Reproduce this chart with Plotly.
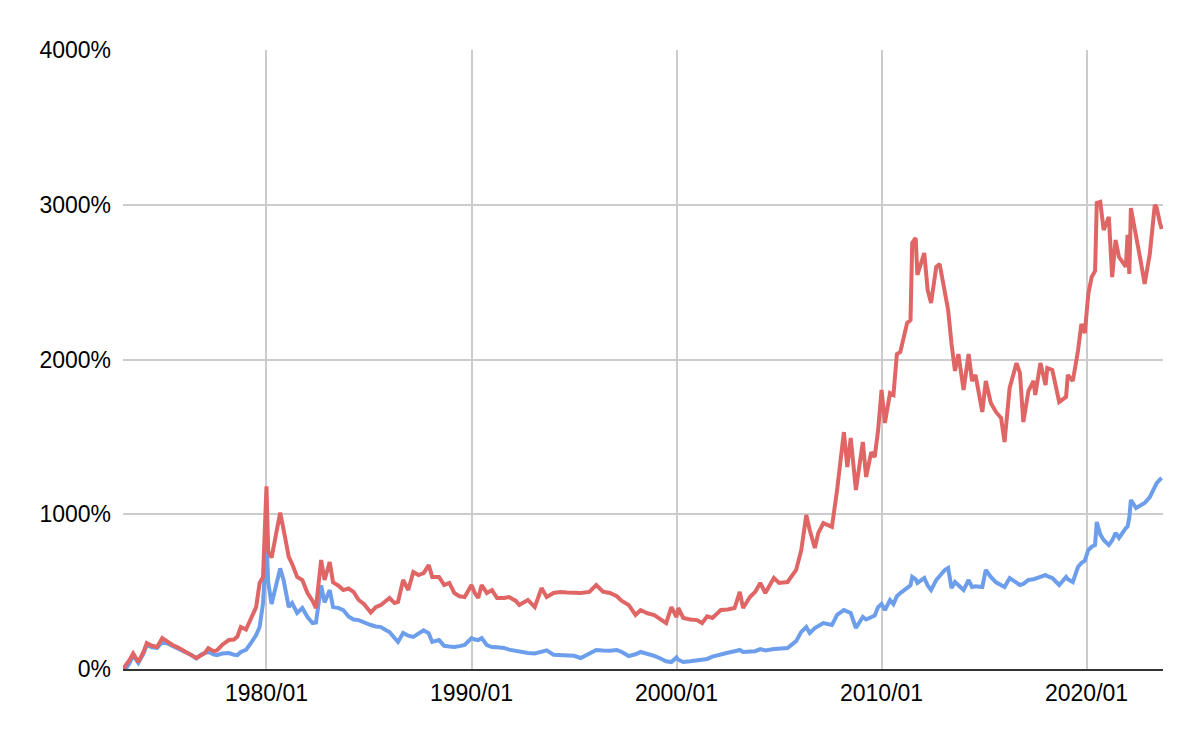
import plotly.graph_objects as go

# ---- data ----
dates = [
    "1973-01", "1973-03", "1973-05", "1973-07", "1973-10",
    "1974-01", "1974-03", "1974-06", "1974-09", "1974-12",
    "1975-03", "1975-06", "1975-09", "1975-12",
    "1976-02", "1976-05", "1976-08", "1976-11",
    "1977-01", "1977-03", "1977-06", "1977-08", "1977-11",
    "1978-03", "1978-06", "1978-08", "1978-10",
    "1979-01", "1979-04", "1979-07", "1979-09", "1979-11",
    "1980-01", "1980-02", "1980-04", "1980-07", "1980-09", "1980-11",
    "1981-02", "1981-04", "1981-07", "1981-10",
    "1982-01", "1982-04", "1982-06", "1982-09", "1982-11",
    "1983-02", "1983-04", "1983-07", "1983-10",
    "1984-01", "1984-04", "1984-07", "1984-10",
    "1985-02", "1985-05", "1985-08", "1985-11",
    "1986-01", "1986-04", "1986-06", "1986-09", "1986-12",
    "1987-03", "1987-06", "1987-09", "1987-12",
    "1988-02", "1988-06", "1988-09", "1988-12",
    "1989-03", "1989-06", "1989-09",
    "1990-01", "1990-03", "1990-05", "1990-07", "1990-10",
    "1991-01", "1991-04", "1991-08", "1991-11",
    "1992-03", "1992-05", "1992-10",
    "1993-02", "1993-06", "1993-09",
    "1994-01", "1994-05", "1994-09",
    "1995-01", "1995-05", "1995-10",
    "1996-02", "1996-06", "1996-10",
    "1997-02", "1997-05", "1997-09",
    "1998-01", "1998-04", "1998-08", "1998-12",
    "1999-03", "1999-07", "1999-10",
    "2000-01", "2000-02", "2000-05", "2000-09",
    "2001-01", "2001-04", "2001-07", "2001-10",
    "2002-03", "2002-07", "2002-11",
    "2003-02", "2003-04", "2003-08", "2003-11",
    "2004-02", "2004-05", "2004-10",
    "2005-01", "2005-06", "2005-11",
    "2006-02", "2006-05", "2006-07", "2006-10", "2006-12",
    "2007-03", "2007-08", "2007-11",
    "2008-03", "2008-05", "2008-07", "2008-10",
    "2009-02", "2009-04", "2009-07", "2009-09", "2009-11",
    "2010-01", "2010-03", "2010-06", "2010-08", "2010-10", "2010-12",
    "2011-04", "2011-06", "2011-07", "2011-09", "2011-10",
    "2012-02", "2012-04", "2012-06", "2012-09", "2012-11",
    "2013-02", "2013-04", "2013-06", "2013-08", "2013-10",
    "2014-01", "2014-04", "2014-06", "2014-08", "2014-12",
    "2015-02", "2015-05", "2015-08", "2015-11",
    "2016-01", "2016-04", "2016-08", "2016-10", "2016-12",
    "2017-03", "2017-06", "2017-07", "2017-10",
    "2018-01", "2018-02", "2018-05", "2018-09",
    "2019-01", "2019-02", "2019-05", "2019-08", "2019-10", "2019-12",
    "2020-02", "2020-04", "2020-06", "2020-07", "2020-09", "2020-11",
    "2021-02", "2021-04", "2021-06", "2021-08", "2021-12",
    "2022-01", "2022-02", "2022-03", "2022-06", "2022-09", "2022-11",
    "2023-02", "2023-05", "2023-06", "2023-08", "2023-09",
]

red_values = [
    0, 26, 60, 100, 45,
    110, 168, 150, 142, 200,
    175, 155, 140, 123,
    105, 90, 71, 90,
    105, 135, 115, 120, 155,
    187, 190, 210, 271,
    255, 330, 400, 556, 595,
    1180, 760, 720, 900, 1010, 900,
    724, 680, 595, 575,
    491, 440, 394, 704, 575,
    691, 560, 540, 510,
    520, 498, 446, 420,
    365, 400, 414, 440,
    459, 426, 433, 575, 510,
    627, 607, 620, 672,
    595, 595, 543, 556,
    491, 470, 465,
    543, 491, 459, 543, 491,
    510, 459, 459, 465,
    440, 414, 446,
    400, 523, 465,
    491, 498, 495,
    491, 491, 498,
    543, 500, 491,
    470, 440, 414,
    349, 381, 360, 349,
    330, 297, 400,
    336, 394, 330, 320,
    316, 297, 340, 330,
    381, 385, 394,
    498, 394, 465, 498,
    556, 491, 588,
    556, 562, 640,
    769, 995, 898, 782, 879,
    943, 918, 1157,
    1531, 1305, 1493, 1157,
    1467, 1241, 1402, 1370, 1544,
    1803, 1590, 1783, 1771, 2035, 2048,
    2236, 2255, 2753, 2785, 2546,
    2688, 2449, 2365, 2598, 2617,
    2449, 2320, 2100, 1926, 2035,
    1803, 2035, 1861, 1900, 1661,
    1861, 1719, 1661, 1622,
    1467, 1816, 1977, 1913, 1596,
    1796, 1861, 1771, 1977,
    1835, 1945, 1932, 1725,
    1758, 1900, 1861, 2055, 2229, 2171,
    2423, 2533, 2572, 3011, 3018, 2837,
    2921, 2533, 2772, 2662, 2598,
    2805, 2553, 2979, 2779, 2617, 2488,
    2682, 2998, 2985, 2882, 2843,
]

blue_values = [
    0, 6, 40, 90, 40,
    100, 155, 140, 136, 175,
    165, 150, 135, 115,
    108, 90, 68, 95,
    103, 110, 95, 90, 100,
    103, 92, 90, 110,
    123, 168, 220, 271, 426,
    830, 560, 420, 560, 650, 575,
    400, 426, 362, 394,
    336, 297, 300, 540, 430,
    510, 400, 395, 381,
    340, 320, 316, 300,
    284, 275, 271, 250,
    239, 200, 175, 233, 215,
    207, 230, 250, 230,
    175, 187, 150, 145,
    142, 148, 155,
    200, 190, 187, 200, 155,
    142, 140, 136, 125,
    115, 110, 103,
    100, 115, 120,
    92, 90, 84,
    85, 71, 100,
    123, 120, 118,
    123, 110, 84,
    95, 110, 100, 85,
    71, 50, 45,
    75, 60, 45, 50,
    55, 58, 65, 80,
    97, 105, 115,
    123, 110, 110, 115,
    129, 120, 129,
    130, 136, 180,
    240, 271, 233, 265, 280,
    297, 284, 350,
    381, 368, 362, 265,
    336, 320, 336, 345, 400,
    420, 381, 446, 420, 470, 491,
    520, 540, 595, 580, 556,
    588, 540, 510, 575, 600,
    640, 653, 523, 562, 540,
    510, 575, 530, 535, 530,
    640, 595, 560, 543,
    530, 588, 556, 543, 550,
    575, 580, 585, 595,
    607, 600, 588, 543,
    595, 580, 562, 659, 685, 700,
    769, 790, 801, 950, 870, 834,
    801, 830, 879, 847, 911,
    920, 980, 1092, 1040, 1060, 1073,
    1111, 1189, 1200, 1225, 1234,
]

x_tick_labels = ["1980/01", "1990/01", "2000/01", "2010/01", "2020/01"]
y_tick_values = [0, 1000, 2000, 3000, 4000]
y_tick_labels = ["0%", "1000%", "2000%", "3000%", "4000%"]

RED = "#e06666"
BLUE = "#6d9eeb"
FONT = "Liberation Sans, Arial, Helvetica, sans-serif"

fig = go.Figure()
fig.add_trace(go.Scatter(x=dates, y=blue_values, mode="lines",
                         line=dict(color=BLUE, width=4), showlegend=False))
fig.add_trace(go.Scatter(x=dates, y=red_values, mode="lines",
                         line=dict(color=RED, width=4), showlegend=False))

x_tick_vals = [lbl.replace("/", "-") + "-01" for lbl in x_tick_labels]

fig.update_layout(
    width=1200, height=742,
    margin=dict(l=115, r=45, t=42, b=81),
    paper_bgcolor="white", plot_bgcolor="white",
    font=dict(family=FONT, size=23, color="#000000"),
)
fig.update_xaxes(
    type="date",
    range=["1973-01-01", "2023-09-24"],
    tickvals=x_tick_vals, ticktext=x_tick_labels,
    showgrid=True, gridcolor="#cccccc", gridwidth=2,
    showline=True, linecolor="#333333", linewidth=2,
    ticks="", ticklabelstandoff=2,
    zeroline=False,
)
fig.update_yaxes(
    range=[0, 4000],
    tickvals=y_tick_values, ticktext=y_tick_labels,
    showgrid=True, gridcolor="#cccccc", gridwidth=2,
    zeroline=False, showline=False, ticks="", ticklabelstandoff=11,
)

fig.write_html("out.html")
